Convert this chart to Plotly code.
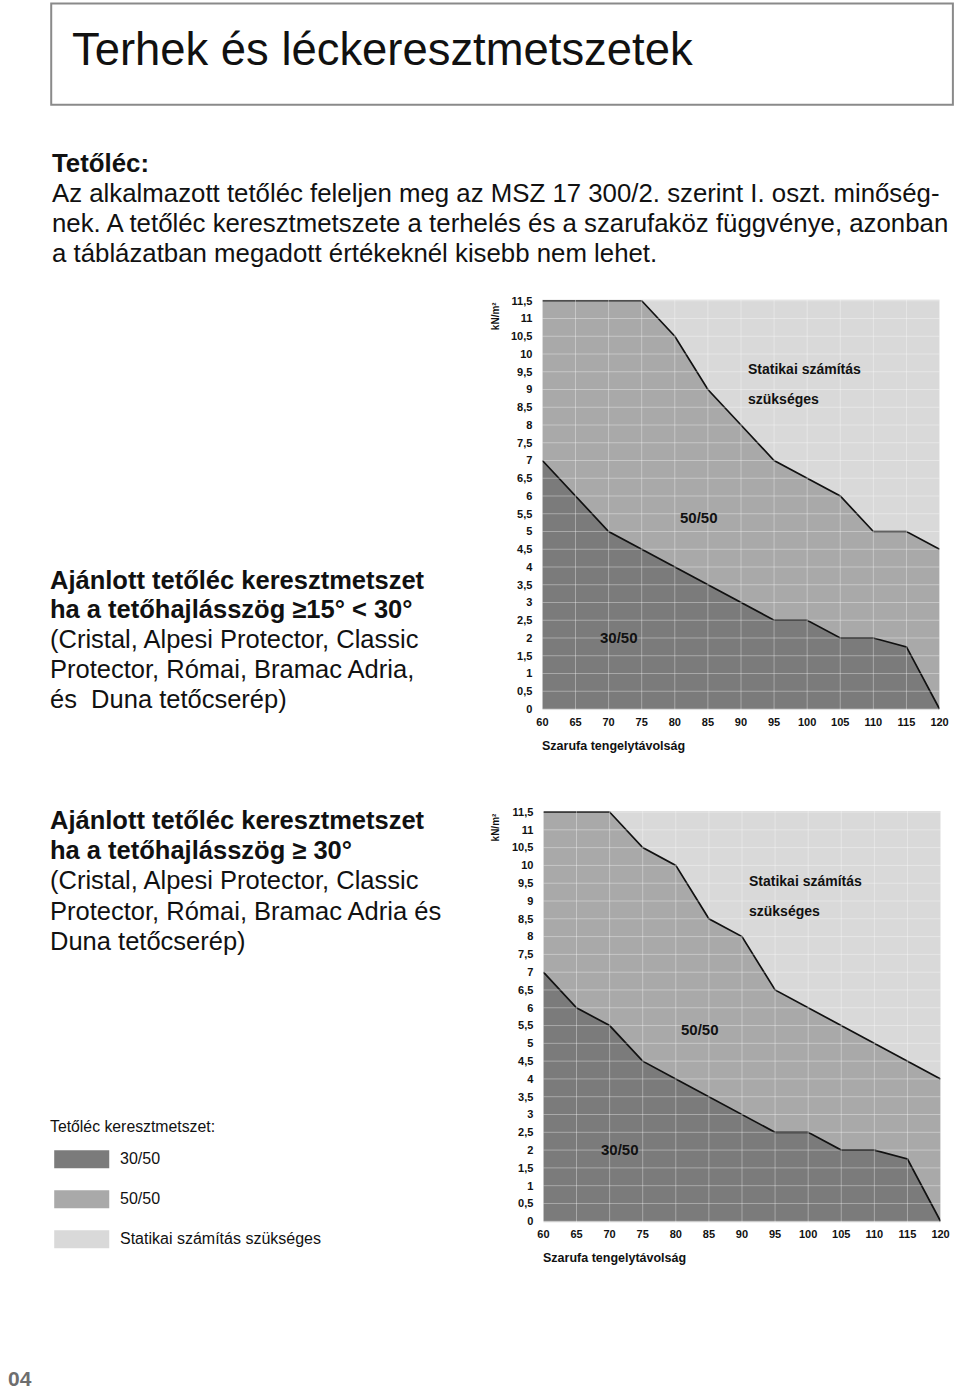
import plotly.graph_objects as go

W, H = 960, 1397

# ---------------- data ----------------
spacing = [60, 65, 70, 75, 80, 85, 90, 95, 100, 105, 110, 115, 120]

# chart 1: roof pitch >=15° <30°
limit_50_c1 = [11.5, 11.5, 11.5, 11.5, 10.5, 9, 8, 7, 6.5, 6, 5, 5, 4.5]
limit_30_c1 = [7, 6, 5, 4.5, 4, 3.5, 3, 2.5, 2.5, 2, 2, 1.75, 0]

# chart 2: roof pitch >=30°
limit_50_c2 = [11.5, 11.5, 11.5, 10.5, 10, 8.5, 8, 6.5, 6, 5.5, 5, 4.5, 4]
limit_30_c2 = [7, 6, 5.5, 4.5, 4, 3.5, 3, 2.5, 2.5, 2, 2, 1.75, 0]

x_ticks = [60, 65, 70, 75, 80, 85, 90, 95, 100, 105, 110, 115, 120]
x_labels = ["60", "65", "70", "75", "80", "85", "90", "95", "100", "105", "110", "115", "120"]
y_ticks = [0, 0.5, 1, 1.5, 2, 2.5, 3, 3.5, 4, 4.5, 5, 5.5, 6, 6.5, 7, 7.5, 8, 8.5, 9, 9.5,
           10, 10.5, 11, 11.5]
y_labels = ["0", "0,5", "1", "1,5", "2", "2,5", "3", "3,5", "4", "4,5", "5", "5,5", "6", "6,5",
            "7", "7,5", "8", "8,5", "9", "9,5", "10", "10,5", "11", "11,5"]

# ---------------- style ----------------
C_DARK = "#7b7b7b"
C_MID = "#a9a9a9"
C_LIGHT = "#d9d9d9"
FONT = "Liberation Sans"
GRID = "rgba(255,255,255,0.35)"
Y_MIN, Y_MAX, Y_PAD = 0.0, 11.5, 0.03


# layout positions are given in target-image pixels and mapped to the page
def X(r):
    return (r - 5.8) / 0.984


def Y(r):
    return (r - 5.4) / 0.9923


def px(r):
    return X(r) / W


def py(r):
    return 1 - Y(r) / H


fig = go.Figure()

charts = [
    dict(up=limit_50_c1, lo=limit_30_c1, xa="x", ya="y",
         xpix=(542, 939), ypix=(301, 709)),
    dict(up=limit_50_c2, lo=limit_30_c2, xa="x2", ya="y2",
         xpix=(543, 940), ypix=(812, 1221)),
]

shapes = []
annotations = []

for i, c in enumerate(charts):
    fig.add_trace(go.Scatter(x=spacing, y=c["up"], mode="lines", fill="tozeroy",
                             fillcolor=C_MID, line=dict(color="#111111", width=1.7),
                             xaxis=c["xa"], yaxis=c["ya"], hoverinfo="skip"))
    fig.add_trace(go.Scatter(x=spacing, y=c["lo"], mode="lines", fill="tozeroy",
                             fillcolor=C_DARK, line=dict(color="#111111", width=1.7),
                             xaxis=c["xa"], yaxis=c["ya"], hoverinfo="skip"))
    for xv in x_ticks:
        shapes.append(dict(type="line", xref=c["xa"], yref=c["ya"] + " domain",
                           x0=xv, x1=xv, y0=0, y1=1, layer="above",
                           line=dict(color=GRID, width=1)))
    for yv in y_ticks:
        shapes.append(dict(type="line", xref=c["xa"] + " domain", yref=c["ya"],
                           x0=0, x1=1, y0=yv, y1=yv, layer="above",
                           line=dict(color=GRID, width=1)))

    # domain so that Y_MAX / Y_MIN land on the wanted pixels, with a little padding
    top_p, bot_p = Y(c["ypix"][0]), Y(c["ypix"][1])
    per_unit = (bot_p - top_p) / (Y_MAX - Y_MIN)
    top_p -= Y_PAD * per_unit
    bot_p += Y_PAD * per_unit

    s = "" if i == 0 else "2"
    fig.update_layout(**{
        "xaxis" + s: dict(
            domain=[px(c["xpix"][0]), px(c["xpix"][1])], range=[60, 120],
            tickvals=x_ticks, ticktext=x_labels, showgrid=False, zeroline=False,
            showline=False, ticks="", ticklabelstandoff=4,
            tickfont=dict(family=FONT, size=11, color="#111", weight="bold"),
            anchor="y" + s, fixedrange=True),
        "yaxis" + s: dict(
            domain=[1 - bot_p / H, 1 - top_p / H], range=[Y_MIN - Y_PAD, Y_MAX + Y_PAD],
            tickvals=y_ticks, ticktext=y_labels, showgrid=False, zeroline=False,
            showline=False, ticks="", ticklabelstandoff=9,
            tickfont=dict(family=FONT, size=11, color="#111", weight="bold"),
            anchor="x" + s, fixedrange=True),
    })

    top = c["ypix"][0]
    annotations += [
        dict(text="Statikai számítás", xref=c["xa"], yref=c["ya"], x=90.7, y=9.57,
             xanchor="left", yanchor="middle", showarrow=False,
             font=dict(family=FONT, size=14, color="#111", weight="bold")),
        dict(text="szükséges", xref=c["xa"], yref=c["ya"], x=90.7, y=8.72,
             xanchor="left", yanchor="middle", showarrow=False,
             font=dict(family=FONT, size=14, color="#111", weight="bold")),
        dict(text="50/50", xref=c["xa"], yref=c["ya"], x=83.6, y=5.4,
             xanchor="center", yanchor="middle", showarrow=False,
             font=dict(family=FONT, size=15, color="#111", weight="bold")),
        dict(text="30/50", xref=c["xa"], yref=c["ya"], x=71.5, y=2.02,
             xanchor="center", yanchor="middle", showarrow=False,
             font=dict(family=FONT, size=15, color="#111", weight="bold")),
        dict(text="kN/m²", xref="paper", yref="paper", x=px(495), y=py(top + 15),
             xanchor="center", yanchor="middle", showarrow=False, textangle=-90,
             font=dict(family=FONT, size=10, color="#111", weight="bold")),
        dict(text="Szarufa tengelytávolság", xref="paper", yref="paper",
             x=px(c["xpix"][0] - 2), y=py(c["ypix"][1] + 37),
             xanchor="left", yanchor="middle", showarrow=False,
             font=dict(family=FONT, size=12.5, color="#111", weight="bold")),
    ]

# ---------------- header ----------------
shapes.append(dict(type="rect", xref="paper", yref="paper", x0=px(51), x1=1.002,
                   y0=py(4), y1=py(105), line=dict(color="#8a8a8a", width=2),
                   fillcolor="rgba(0,0,0,0)"))
annotations.append(dict(text="Terhek és léckeresztmetszetek", xref="paper", yref="paper",
                        x=px(70), y=py(50), xanchor="left", yanchor="middle",
                        showarrow=False, font=dict(family=FONT, size=45.4, color="#111")))

body_lines = [
    ("<b>Tetőléc:</b>", 163),
    ("Az alkalmazott tetőléc feleljen meg az MSZ 17 300/2. szerint I. oszt. minőség-", 193),
    ("nek. A tetőléc keresztmetszete a terhelés és a szarufaköz függvénye, azonban", 223),
    ("a táblázatban megadott értékeknél kisebb nem lehet.", 253),
]
for t, yy in body_lines:
    annotations.append(dict(text=t, xref="paper", yref="paper", x=px(50), y=py(yy),
                            xanchor="left", yanchor="middle", showarrow=False,
                            font=dict(family=FONT, size=25.8, color="#111")))

block1 = [
    ("<b>Ajánlott tetőléc keresztmetszet</b>", 580),
    ("<b>ha a tetőhajlásszög ≥15° &lt; 30°</b>", 609),
    ("(Cristal, Alpesi Protector, Classic", 639),
    ("Protector, Római, Bramac Adria,", 669),
    ("és  Duna tetőcserép)", 699),
]
block2 = [
    ("<b>Ajánlott tetőléc keresztmetszet</b>", 820),
    ("<b>ha a tetőhajlásszög ≥ 30°</b>", 850),
    ("(Cristal, Alpesi Protector, Classic", 880),
    ("Protector, Római, Bramac Adria és", 911),
    ("Duna tetőcserép)", 941),
]
for t, yy in block1 + block2:
    annotations.append(dict(text=t, xref="paper", yref="paper", x=px(48), y=py(yy),
                            xanchor="left", yanchor="middle", showarrow=False,
                            font=dict(family=FONT, size=25.5, color="#111")))

# ---------------- legend ----------------
annotations.append(dict(text="Tetőléc keresztmetszet:", xref="paper", yref="paper",
                        x=px(48), y=py(1126), xanchor="left", yanchor="middle",
                        showarrow=False, font=dict(family=FONT, size=15.8, color="#111")))
legend_items = [("30/50", C_DARK, 1159), ("50/50", C_MID, 1199),
                ("Statikai számítás szükséges", C_LIGHT, 1239)]
for lab, col, yy in legend_items:
    shapes.append(dict(type="rect", xref="paper", yref="paper", x0=px(54), x1=px(109),
                       y0=py(yy + 9), y1=py(yy - 9), fillcolor=col, line=dict(width=0)))
    annotations.append(dict(text=lab, xref="paper", yref="paper", x=px(118), y=py(yy - 1),
                            xanchor="left", yanchor="middle", showarrow=False,
                            font=dict(family=FONT, size=16, color="#111")))

# page number
annotations.append(dict(text="<b>04</b>", xref="paper", yref="paper", x=0, y=0,
                        xanchor="left", yanchor="bottom", showarrow=False,
                        font=dict(family="Liberation Sans", size=21, color="#6e6e6e")))

fig.update_layout(width=W, height=H, margin=dict(l=0, r=0, t=0, b=0),
                  paper_bgcolor="white", plot_bgcolor=C_LIGHT, showlegend=False,
                  shapes=shapes, annotations=annotations)

fig.write_html("out.html", config={"displayModeBar": False},
               post_script="document.body.style.margin='0';"
                           "document.documentElement.style.overflow='hidden';")
